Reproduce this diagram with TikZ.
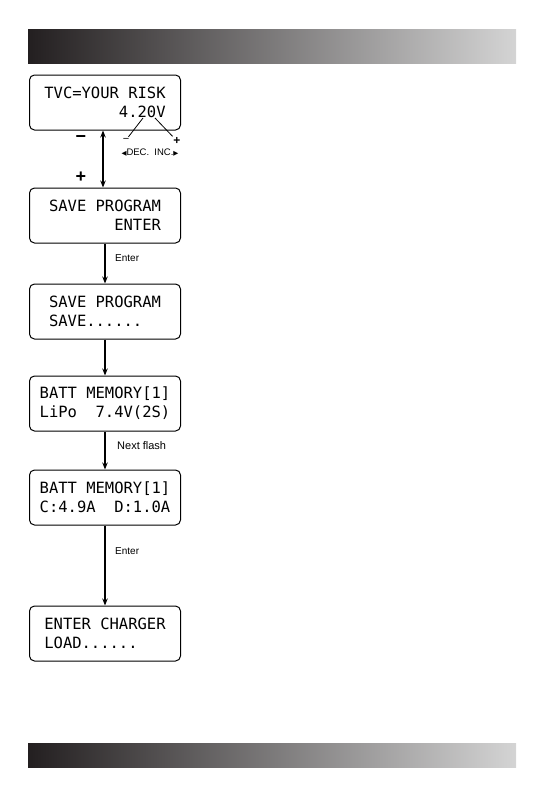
\documentclass[tikz,border=0pt]{standalone}
\usepackage{fontspec}
\setmainfont{Liberation Sans}
\newfontfamily\lcdfont{DejaVu Sans Mono}
\newfontfamily\symfont{DejaVu Sans}
\usetikzlibrary{calc,positioning}
\usetikzlibrary{arrows.meta}
\definecolor{barL}{RGB}{35,31,32}
\definecolor{barR}{RGB}{212,212,212}
\tikzset{
  lcd/.style={draw,line width=1pt,rounded corners=5pt,minimum width=151pt,
    minimum height=55pt,inner sep=0pt,font=\lcdfont\fontsize{15.5}{19}\selectfont},
  flow/.style={-{Stealth[length=7pt,width=5.5pt]},line width=1.1pt},
  bar/.style={left color=barL,right color=barR},
  lbl/.style={anchor=west,inner sep=0pt}
}

\begin{document}
\begin{tikzpicture}[x=1pt,y=-1pt]
  \useasboundingbox (0,0) rectangle (545,795);
  \shade[bar] (28,29) rectangle (516,63);
  \shade[bar] (28,743) rectangle (516,767);
  % display screens
  \node[lcd,align=right] (tvc) at (105,102.5) {TVC=YOUR RISK\\4.20V};
  \node[lcd,align=right,below=57pt of tvc] (save) {SAVE PROGRAM\\ENTER};
  \node[lcd,align=left,below=40pt of save] (saving) {SAVE PROGRAM\\SAVE......};
  \node[lcd,align=left,below=36pt of saving] (batt) {BATT MEMORY[1]\\LiPo\ \ 7.4V(2S)};
  \node[lcd,align=left,below=38pt of batt] (curr) {BATT MEMORY[1]\\C:4.9A\ \ D:1.0A};
  \node[lcd,align=left,below=80pt of curr] (load) {ENTER CHARGER\\LOAD......};
  % arrows
  \draw[flow,{Stealth[length=7pt,width=5.5pt]}-{Stealth[length=7pt,width=5.5pt]}]
    ([xshift=-2pt]tvc.south) -- ([xshift=-2pt]save.north);
  \draw[flow] (save) -- (saving);
  \draw[flow] (saving) -- (batt);
  \draw[flow] (batt) -- (curr);
  \draw[flow] (curr) -- (load);
  % keys
  \node[font=\bfseries\fontsize{18}{18}\selectfont] (minus) at (81,139) {−};
  \node[font=\bfseries\fontsize{18}{18}\selectfont] (plus) at (81,177) {+};
  \node[font=\fontsize{11}{11}\selectfont,inner sep=1pt] (dm) at (126,140) {−};
  \node[font=\bfseries\fontsize{12}{12}\selectfont,inner sep=1pt] (dp) at (177,141) {+};
  \coordinate (d2) at (143,118);
  \coordinate (d0) at (155,118);
  \draw[line width=0.8pt] (dm) -- (d2);
  \draw[line width=0.8pt] (d0) -- (dp);
  \node[font=\fontsize{9.5}{10}\selectfont,inner sep=0pt] (decinc) at (150,153)
    {{\symfont\fontsize{6.5}{7}\selectfont ◀}DEC.\ \ INC.{\symfont\fontsize{6.5}{7}\selectfont ▶}};
  \node[lbl,font=\fontsize{10}{12}\selectfont] (enter1) at (115,258) {Enter};
  \node[lbl,font=\fontsize{11}{13}\selectfont] (next) at (117,446) {Next flash};
  \node[lbl,font=\fontsize{10}{12}\selectfont] (enter2) at (115,551) {Enter};
\end{tikzpicture}
\end{document}
